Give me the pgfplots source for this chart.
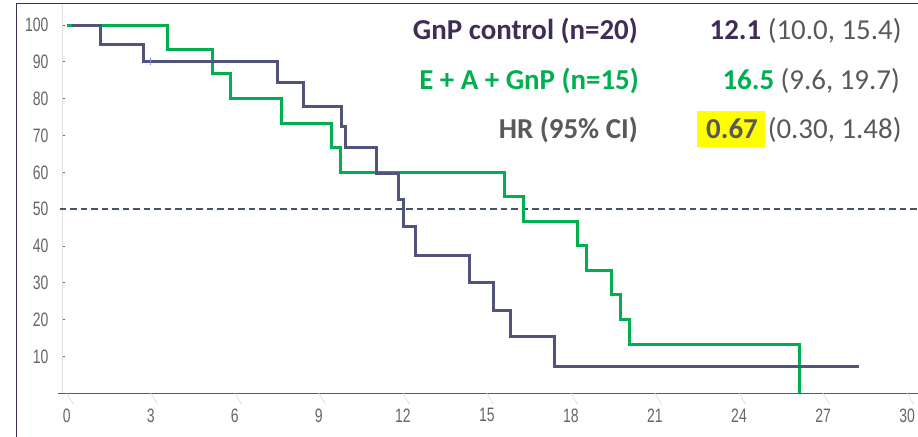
\documentclass[border=0pt]{standalone}
\usepackage{fontspec}
\setmainfont{Carlito}
\newfontfamily\tickfont[FakeStretch=0.72]{Liberation Sans}
\usepackage{pgfplots}
\pgfplotsset{compat=1.18}

\definecolor{ctrl}{HTML}{50547A}
\definecolor{trt}{HTML}{00B050}
\definecolor{purp}{HTML}{3F2D55}
\definecolor{txtgray}{HTML}{595959}
\definecolor{tickgray}{HTML}{666666}
\definecolor{axisgray}{HTML}{5A5A5A}
\definecolor{gridgray}{HTML}{E0E0E0}
\definecolor{refline}{HTML}{44546A}
\definecolor{hl}{HTML}{FFFF00}
\definecolor{censor}{HTML}{8C8CE6}

\begin{document}
\begin{tikzpicture}
\path[use as bounding box] (0,0) rectangle (918bp,437bp);
\begin{axis}[
  at={(62.7bp,43.7bp)}, anchor=south west,
  scale only axis, width=855.3bp, height=389.8bp,
  xmin=-0.143, xmax=30.39, ymin=0, ymax=105.84,
  axis x line*=bottom, axis y line*=left,
  x axis line style={draw=axisgray, line width=1.2bp, -, shorten <=-4.4bp},
  y axis line style={draw=gridgray, line width=1bp, -},
  xtick={0,3,...,30}, ytick={10,20,...,100},
  tick align=inside, major tick style={draw=none},
  /pgf/number format/assume math mode=true,
  tick label style={font=\tickfont\fontsize{19.5}{20}\selectfont, text=tickgray},
  xticklabel style={inner sep=0pt, anchor=north, yshift=-15bp},
  yticklabel style={inner sep=0pt, anchor=east, xshift=-14bp},
  clip=false,
]
% median reference line
\addplot[refline, line width=1.7bp, dash pattern=on 6.5bp off 4bp] coordinates {(-0.24,50) (30.39,50)};

% E + A + GnP arm
\addplot[trt, line width=3bp, const plot] coordinates {
  (0,100) (3.59,93.3) (5.19,86.7) (5.83,80.0) (7.68,73.3) (9.47,66.7)
  (9.76,60.0) (15.63,53.3) (16.29,46.7) (18.24,40.0) (18.57,33.3)
  (19.45,26.7) (19.78,20.0) (20.09,13.3) (26.15,0)
};

% GnP control arm
\addplot[ctrl, line width=3bp, const plot] coordinates {
  (0.19,100) (1.19,94.8) (2.74,90.0) (7.51,84.4) (8.44,78.0) (9.82,72.4)
  (9.97,66.7) (11.05,59.7) (11.86,52.7) (12.02,45.2) (12.44,37.5)
  (14.38,30.0) (15.24,22.6) (15.86,15.4) (17.40,7.2) (28.27,7.2)
};

% censoring tick
\addplot[censor, only marks, mark=|, mark size=3.5bp, mark options={line width=0.8bp}] coordinates {(2.97,90)};

% tick marks
\pgfplotsinvokeforeach{0,3,6,9,12,15,18,21,24,27,30}{
  \draw[gridgray, line width=0.8bp] (axis cs:#1,0) -- ++(0,-11bp);
}
\pgfplotsinvokeforeach{10,20,30,40,50,60,70,80,90,100}{
  \draw[tickgray, line width=0.8bp] (axis cs:-0.143,#1) -- ++(-4.4bp,0);
}
\end{axis}

% frame
\draw[purp, line width=1.5bp] (16.7bp,0) -- (16.7bp,433.5bp) -- (918bp,433.5bp);

% summary table
\tikzset{lab/.style={anchor=base east, inner sep=0pt, font=\fontsize{29}{31}\selectfont\bfseries}}
\tikzset{val/.style={anchor=base east, inner sep=0pt, font=\fontsize{29}{31}\selectfont}}
\node[lab, text=purp] at (638bp,397bp) {GnP control (n=20)};
\node[lab, text=trt] at (639bp,347bp) {E + A + GnP (n=15)};
\node[lab, text=txtgray] at (638bp,298bp) {HR (95\% CI)};

\node[val] at (901.7bp,397bp) {\textcolor{purp}{\bfseries 12.1} \textcolor{txtgray}{(10.0, 15.4)}};
\node[val] at (900bp,347bp) {\textcolor{trt}{\bfseries 16.5} \textcolor{txtgray}{(9.6, 19.7)}};
\node[val] at (901.7bp,298bp) {{\fboxsep=0pt\colorbox{hl}{\rule[-8bp]{0pt}{35.7bp}\hspace{9bp}\textcolor{txtgray}{\bfseries 0.67}\hspace{7bp}}}\hspace{3bp}\textcolor{txtgray}{(0.30, 1.48)}};
\end{tikzpicture}
\end{document}
